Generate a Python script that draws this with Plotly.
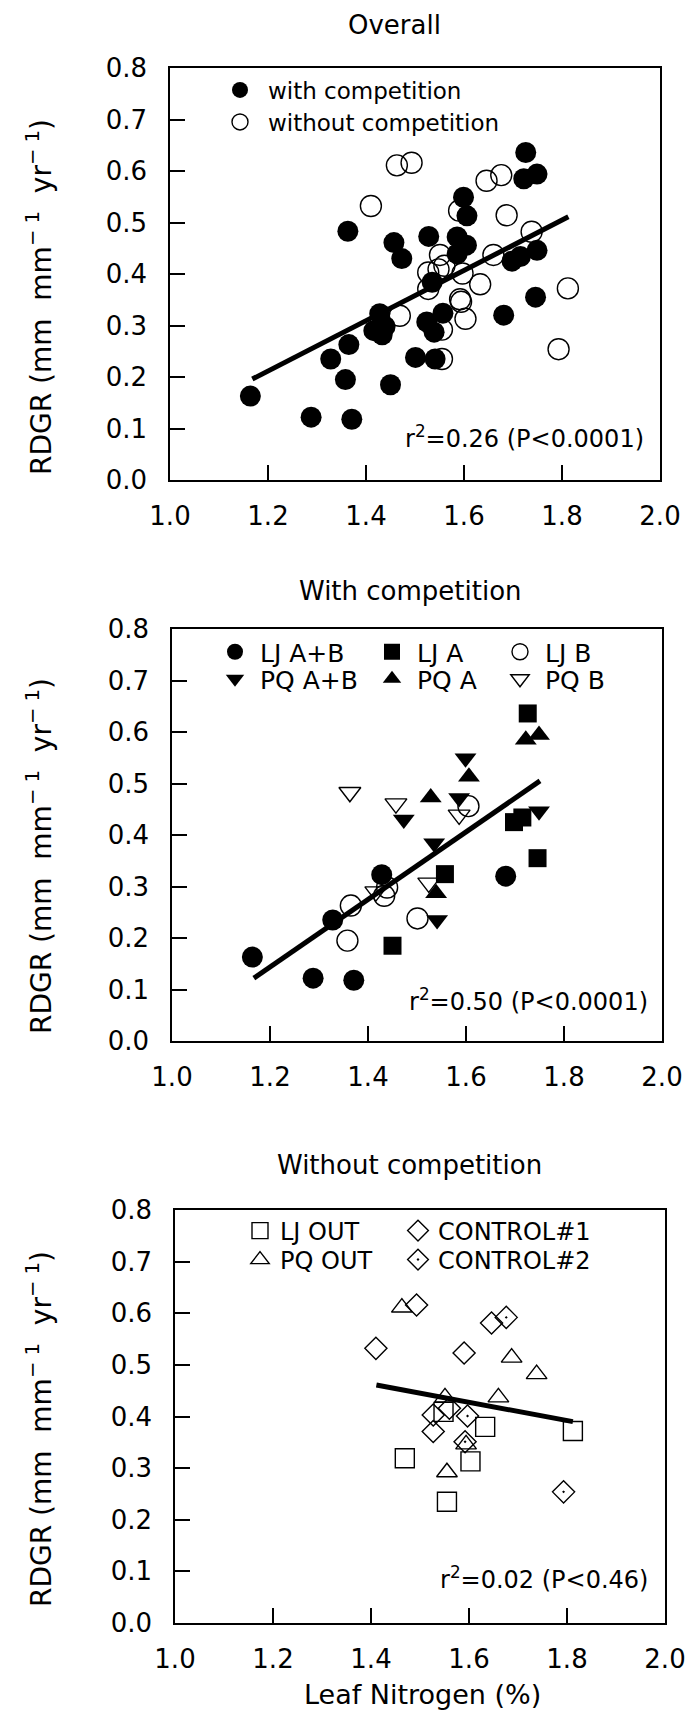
import plotly.graph_objects as go

# ---------------- data ----------------
# Panel "With competition"
lj_ab_x = [1.164, 1.288, 1.328, 1.371, 1.428, 1.681]
lj_ab_y = [0.163, 0.122, 0.235, 0.118, 0.323, 0.320]
lj_a_x = [1.450, 1.557, 1.698, 1.715, 1.726, 1.746]
lj_a_y = [0.185, 0.324, 0.425, 0.434, 0.636, 0.355]
lj_b_x = [1.358, 1.365, 1.433, 1.439, 1.501, 1.605]
lj_b_y = [0.195, 0.263, 0.282, 0.298, 0.238, 0.456]
pq_ab_x = [1.473, 1.535, 1.541, 1.586, 1.599, 1.749]
pq_ab_y = [0.430, 0.384, 0.235, 0.472, 0.549, 0.446]
pq_a_x = [1.528, 1.539, 1.606, 1.722, 1.749]
pq_a_y = [0.473, 0.287, 0.513, 0.585, 0.594]
pq_b_x = [1.363, 1.416, 1.457, 1.524, 1.586]
pq_b_y = [0.483, 0.290, 0.461, 0.307, 0.439]

# Panel "Without competition"
lj_out_x = [1.469, 1.548, 1.555, 1.603, 1.633, 1.812]
lj_out_y = [0.319, 0.409, 0.235, 0.313, 0.380, 0.372]
pq_out_x = [1.463, 1.551, 1.555, 1.594, 1.660, 1.687, 1.738]
pq_out_y = [0.611, 0.437, 0.292, 0.346, 0.437, 0.514, 0.482]
ctrl1_x = [1.410, 1.493, 1.527, 1.527, 1.560, 1.590, 1.646]
ctrl1_y = [0.532, 0.616, 0.403, 0.371, 0.416, 0.523, 0.581]
ctrl2_x = [1.592, 1.597, 1.676, 1.793]
ctrl2_y = [0.351, 0.401, 0.592, 0.254]

# Regression lines (end points)
fit_all_x = [1.168, 1.813]
fit_all_y = [0.196, 0.511]
fit_with_x = [1.167, 1.751]
fit_with_y = [0.122, 0.505]
fit_without_x = [1.411, 1.812]
fit_without_y = [0.461, 0.390]

panel_titles = ["Overall", "With competition", "Without competition"]
stats_text = ["r<sup>2</sup>=0.26 (P&lt;0.0001)",
              "r<sup>2</sup>=0.50 (P&lt;0.0001)",
              "r<sup>2</sup>=0.02 (P&lt;0.46)"]
y_title = "RDGR (mm\u00a0\u00a0mm<sup>\u2212\u00a01</sup>\u00a0\u00a0yr<sup>\u2212\u00a01</sup>)"
x_title = "Leaf Nitrogen (%)"

# overall panel = union of the two groups
with_x = lj_ab_x + lj_a_x + lj_b_x + pq_ab_x + pq_a_x + pq_b_x
with_y = lj_ab_y + lj_a_y + lj_b_y + pq_ab_y + pq_a_y + pq_b_y
without_x = lj_out_x + pq_out_x + ctrl1_x + ctrl2_x
without_y = lj_out_y + pq_out_y + ctrl1_y + ctrl2_y

# ---------------- layout geometry (pixels) ----------------
W, H = 688, 1712
FONT = "DejaVu Sans"
panels = [
    dict(x0=170, x1=660, y0=68, y1=480),
    dict(x0=172, x1=662, y0=629, y1=1041),
    dict(x0=175, x1=665, y0=1210, y1=1623),
]


def fx(px):
    return px / W


def fy(py):
    return 1 - py / H


fig = go.Figure()

legend_layouts = {}
legend_count = [0]


def add_points(xs, ys, name, symbol, size, axis_idx, leg_px, leg_py, itemwidth, fsize,
               open_=False):
    legend_count[0] += 1
    lid = "legend" if legend_count[0] == 1 else "legend%d" % legend_count[0]
    suffix = "" if axis_idx == 1 else str(axis_idx)
    fig.add_trace(go.Scatter(
        x=xs, y=ys, mode="markers", name=name,
        xaxis="x" + suffix, yaxis="y" + suffix,
        marker=dict(symbol=symbol, size=size, color="black",
                    line=dict(color="black", width=1.4 if open_ else 0)),
        legend=lid, showlegend=True,
    ))
    gap = (itemwidth + 10) / 2
    legend_layouts[lid] = dict(
        x=fx(leg_px - gap), y=fy(leg_py), xanchor="left", yanchor="middle",
        bgcolor="rgba(0,0,0,0)", borderwidth=0, itemwidth=itemwidth,
        font=dict(family=FONT, size=fsize, color="black"),
        tracegroupgap=0,
    )


def add_line(xs, ys, axis_idx):
    suffix = "" if axis_idx == 1 else str(axis_idx)
    fig.add_trace(go.Scatter(
        x=xs, y=ys, mode="lines", xaxis="x" + suffix, yaxis="y" + suffix,
        line=dict(color="black", width=5), showlegend=False, hoverinfo="skip",
    ))


# Panel 1
add_points(with_x, with_y, "with competition", "circle", 21, 1, 240, 90, 46, 23)
add_points(without_x, without_y, "without competition", "circle-open", 21, 1, 240, 122, 46, 23,
           open_=True)
add_line(fit_all_x, fit_all_y, 1)

# Panel 2
r1, r2 = 652, 679
add_points(lj_ab_x, lj_ab_y, "LJ A+B", "circle", 21, 2, 235, r1, 40, 25)
add_points(lj_a_x, lj_a_y, "LJ A", "square", 18, 2, 392, r1, 40, 25)
add_points(lj_b_x, lj_b_y, "LJ B", "circle-open", 21, 2, 520, r1, 40, 25, open_=True)
add_points(pq_ab_x, pq_ab_y, "PQ A+B", "triangle-down", 19, 2, 235, r2, 40, 25)
add_points(pq_a_x, pq_a_y, "PQ A", "triangle-up", 19, 2, 392, r2, 40, 25)
add_points(pq_b_x, pq_b_y, "PQ B", "triangle-down-open", 19, 2, 520, r2, 40, 25, open_=True)
add_line(fit_with_x, fit_with_y, 2)

# Panel 3
s1, s2 = 1231, 1260
add_points(lj_out_x, lj_out_y, "LJ OUT", "square-open", 19, 3, 260, s1, 30, 24, open_=True)
add_points(pq_out_x, pq_out_y, "PQ OUT", "triangle-up-open", 18, 3, 260, s2, 30, 24, open_=True)
add_points(ctrl1_x, ctrl1_y, "CONTROL#1", "diamond-open", 17, 3, 418, s1, 30, 24, open_=True)
add_points(ctrl2_x, ctrl2_y, "CONTROL#2", "diamond-open-dot", 17, 3, 418, s2, 30, 24, open_=True)
add_line(fit_without_x, fit_without_y, 3)

axis_common = dict(
    showgrid=False, zeroline=False, showline=True, linecolor="black", linewidth=1.5,
    mirror=True, ticks="inside", ticklen=15, tickwidth=1.5, tickcolor="black",
    tickfont=dict(family=FONT, size=26, color="black"), automargin=False,
)

layout_axes = {}
for i, p in enumerate(panels, start=1):
    s = "" if i == 1 else str(i)
    layout_axes["xaxis" + s] = dict(
        axis_common, domain=[fx(p["x0"]), fx(p["x1"])], range=[1.0, 2.0],
        tickmode="linear", tick0=1.0, dtick=0.2, tickformat=".1f",
        anchor="y" + s, ticklabelstandoff=12,
    )
    layout_axes["yaxis" + s] = dict(
        axis_common, domain=[fy(p["y1"]), fy(p["y0"])], range=[0, 0.8],
        tickmode="linear", tick0=0, dtick=0.1, tickformat=".1f",
        anchor="x" + s, ticklabelstandoff=16,
    )

annotations = []
title_pos = [(394, 25), (411, 591), (410, 1165)]
for (tx, ty), t in zip(title_pos, panel_titles):
    annotations.append(dict(text=t, x=fx(tx), y=fy(ty), xref="paper", yref="paper",
                            xanchor="center", yanchor="middle", showarrow=False,
                            font=dict(family=FONT, size=26, color="black")))
stats_pos = [(646, 437), (650, 1000), (650, 1578)]
for (sx, sy), t in zip(stats_pos, stats_text):
    annotations.append(dict(text=t, x=fx(sx), y=fy(sy), xref="paper", yref="paper",
                            xanchor="right", yanchor="middle", showarrow=False,
                            font=dict(family=FONT, size=24, color="black")))
ytitle_pos = [(39, 297), (39, 856), (39, 1429)]
for (yx, yy) in ytitle_pos:
    annotations.append(dict(text=y_title, x=fx(yx), y=fy(yy), xref="paper", yref="paper",
                            xanchor="center", yanchor="middle", textangle=-90,
                            showarrow=False, font=dict(family=FONT, size=28, color="black")))
annotations.append(dict(text=x_title, x=fx(422), y=fy(1694), xref="paper", yref="paper",
                        xanchor="center", yanchor="middle", showarrow=False,
                        font=dict(family=FONT, size=27, color="black")))

fig.update_layout(
    template="none",
    width=W, height=H,
    margin=dict(l=0, r=0, t=0, b=0, pad=0),
    paper_bgcolor="white", plot_bgcolor="white",
    font=dict(family=FONT, color="black"),
    annotations=annotations,
    **layout_axes,
    **legend_layouts,
)

fig.write_html("out.html")
